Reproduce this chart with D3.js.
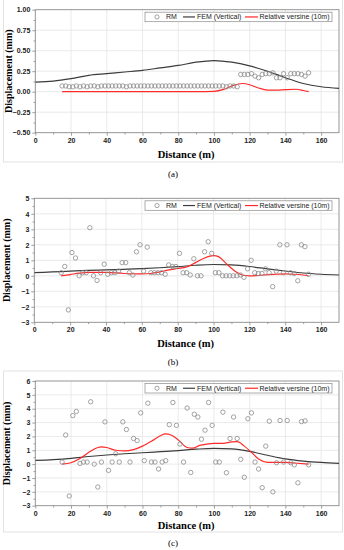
<!DOCTYPE html>
<html><head><meta charset="utf-8">
<script src="https://cdn.jsdelivr.net/npm/d3@7"></script>
<style>body{margin:0;background:#fff}svg{display:block}</style>
</head><body><svg id="c" width="344" height="550"></svg>
<script>
const distance = [15,17,19,21,23,25,27,29,31,33,35,37,39,41,43,45,47,49,51,53,55,57,59,61,63,65,67,69,71,73,75,77,79,81,83,85,87,89,91,93,95,97,99,101,103,105,107,109,111,113,115,117,119,121,123,125,127,129,131,133,135,137,139,141,143,145,147,149,151,153];
const rmA = [0.07,0.07,0.06,0.06,0.07,0.06,0.07,0.06,0.07,0.07,
  0.06,0.07,0.07,0.07,0.07,0.07,0.07,0.07,0.06,0.07,
  0.07,0.07,0.07,0.07,0.07,0.07,0.07,0.07,0.07,0.07,
  0.07,0.07,0.07,0.07,0.07,0.07,0.07,0.07,0.07,0.07,
  0.07,0.07,0.07,0.07,0.07,0.07,0.06,0.07,0.07,0.06,
  0.21,0.21,0.21,0.22,0.19,0.17,0.21,0.22,0.22,0.23,
  0.17,0.17,0.22,0.17,0.22,0.22,0.22,0.21,0.19,0.23];
const rmB = [0.2,0.6,-2.2,1.5,1.15,0.0,0.2,0.2,3.1,0.0,
  -0.3,0.2,0.75,0.1,0.2,0.2,0.3,0.85,0.85,0.2,
  0.05,1.55,2.0,0.3,1.85,0.2,0.2,0.2,0.2,0.1,
  0.7,0.6,0.6,1.45,0.2,0.2,0.05,1.1,0.0,0.0,
  1.55,2.2,1.45,0.2,0.2,0.0,0.0,0.0,0.0,0.0,
  0.05,-0.1,0.45,1.0,0.2,0.15,0.15,0.45,0.2,-0.7,
  0.3,2.0,0.2,2.0,0.2,0.15,-0.32,2.0,1.88,0.1];
const rmC = [0.15,2.1,-2.3,3.5,3.8,0.05,0.15,0.15,4.5,0.0,
  -1.65,0.15,3.05,-0.45,0.15,0.75,0.15,3.05,2.5,0.15,
  1.85,1.7,3.7,0.25,4.4,0.15,0.15,-0.35,0.15,0.25,
  2.85,4.45,2.8,1.45,0.15,4.05,-0.6,3.6,3.4,1.8,
  2.45,4.45,2.8,0.15,0.15,3.75,-0.62,1.85,3.4,1.85,
  0.35,-0.95,3.28,3.7,0.15,-0.35,-1.7,1.3,3.1,-2.0,
  0.1,3.15,0.15,3.15,0.1,-0.05,-1.35,3.07,3.12,-0.05];
const femX = [0,10,20,30,40,50,60,70,80,90,100,110,120,130,140,150,160,170];
const femA = [0.117,0.13,0.16,0.20,0.22,0.24,0.26,0.29,0.32,0.36,0.38,0.36,0.315,0.25,0.17,0.10,0.06,0.04];
const femB = [0.2,0.25,0.3,0.35,0.38,0.42,0.46,0.52,0.59,0.68,0.73,0.7,0.6,0.45,0.31,0.18,0.1,0.05];
const femC = [0.27,0.33,0.42,0.55,0.66,0.75,0.82,0.9,0.98,1.08,1.14,1.1,0.92,0.64,0.38,0.22,0.12,0.06];
const rvAx = [15,30,50,70,90,100,105,110,116,120,125,130,135,140,146,150,153];
const rvA  = [0,0,0,0,0,0.005,0.025,0.07,0.10,0.085,0.045,0.02,0.018,0.025,0.03,0.015,0];
const rvBx = [15,20,25,30,40,50,60,65,70,75,80,85,90,95,100,103,107,112,116,120,125,130,135,140,145,150,153];
const rvB  = [0,0.08,0.17,0.22,0.22,0.15,0.12,0.15,0.25,0.38,0.47,0.57,0.85,1.15,1.3,1.22,0.8,0.3,0.05,0,0.02,0.08,0.1,0.12,0.1,0.05,0];
const rvCx = [15,20,25,30,35,37,40,45,50,55,60,65,70,73,76,80,85,88,92,96,100,105,110,113,117,121,125,130,140,145,153];
const rvC  = [0,0.1,0.4,0.85,1.2,1.25,1.2,1.0,0.95,1.05,1.3,1.65,2.05,2.18,2.1,1.75,1.2,1.15,1.35,1.45,1.5,1.5,1.6,1.62,1.3,0.85,0.37,0.13,0.12,0.08,0];
const xTicks = [0,20,40,60,80,100,120,140,160];
const yTicksA = [-0.5,-0.25,0,0.25,0.5,0.75,1.0];
const yTicksB = [-3,-2,-1,0,1,2,3,4,5];
const yTicksC = [-3,-2,-1,0,1,2,3,4,5,6];
const legendLabels = ["RM","FEM (Vertical)","Relative versine (10m)"];

const svg = d3.select("#c");
const sans = "'Liberation Sans', Arial, sans-serif";
const serif = "'Liberation Serif', 'Times New Roman', serif";

function panel(o){
  const x = d3.scaleLinear().domain([0,170]).range([o.left, o.right]);
  const y = d3.scaleLinear().domain(o.yDomain).range([o.bottom, o.top]);
  const g = svg.append("g");
  // frame
  if (o.frame) {
    g.append("rect").attr("x",3.5).attr("y",o.frame[0]).attr("width",339).attr("height",o.frame[1]-o.frame[0])
      .attr("fill","none").attr("stroke","#e2e2e2").attr("stroke-width",1);
  }
  // grid
  g.append("g").selectAll("line").data(xTicks.slice(1)).join("line")
    .attr("x1",d=>x(d)).attr("x2",d=>x(d)).attr("y1",o.top).attr("y2",o.bottom)
    .attr("stroke","#e4e4e4").attr("stroke-width",0.8);
  g.append("g").selectAll("line").data(o.yTicks.slice(1,-1)).join("line")
    .attr("x1",o.left).attr("x2",o.right).attr("y1",d=>y(d)).attr("y2",d=>y(d))
    .attr("stroke","#e4e4e4").attr("stroke-width",0.8);
  // axes
  const xa = g.append("g").attr("transform",`translate(0,${o.bottom})`)
    .call(d3.axisBottom(x).tickValues(xTicks).tickSize(3).tickPadding(2).tickFormat(d3.format("d")));
  const xm = g.append("g").attr("transform",`translate(0,${o.bottom})`)
    .call(d3.axisBottom(x).tickValues(d3.range(10,170,20)).tickSize(1.8).tickFormat(""));
  const ya = g.append("g").attr("transform",`translate(${o.left},0)`)
    .call(d3.axisLeft(y).tickValues(o.yTicks).tickSize(3).tickPadding(2).tickFormat(o.fmt));
  const minorY = o.yTicks.slice(0,-1).map((d,i)=>(d+o.yTicks[i+1])/2);
  const ym = g.append("g").attr("transform",`translate(${o.left},0)`)
    .call(d3.axisLeft(y).tickValues(minorY).tickSize(1.8).tickFormat(""));
  [xa,xm,ya,ym].forEach(a=>{
    a.select(".domain").remove();
    a.selectAll("line").attr("stroke","#777").attr("stroke-width",0.7);
    a.selectAll("text").attr("font-family",sans).attr("font-weight","bold").attr("font-size",7).attr("fill","#222");
  });
  g.append("rect").attr("x",o.left).attr("y",o.top).attr("width",o.right-o.left).attr("height",o.bottom-o.top)
    .attr("fill","none").attr("stroke","#8a8a8a").attr("stroke-width",0.9);
  // clip
  const cid = "clip"+o.id;
  svg.append("clipPath").attr("id",cid).append("rect")
    .attr("x",o.left).attr("y",o.top).attr("width",o.right-o.left).attr("height",o.bottom-o.top);
  const pg = g.append("g").attr("clip-path",`url(#${cid})`);
  const line = d3.line().curve(d3.curveMonotoneX);
  pg.append("path").attr("d", line(femX.map((d,i)=>[x(d), y(o.fem[i])])))
    .attr("fill","none").attr("stroke","#3c3c3c").attr("stroke-width",1.2);
  pg.append("path").attr("d", line(o.rvx.map((d,i)=>[x(d), y(o.rv[i])])))
    .attr("fill","none").attr("stroke","#ff2a2a").attr("stroke-width",1.2);
  pg.append("g").selectAll("circle").data(distance).join("circle")
    .attr("cx",d=>x(d)).attr("cy",(d,i)=>y(o.rm[i])).attr("r",2.2)
    .attr("fill","none").attr("stroke","#8c8c8c").attr("stroke-width",0.8);
  // legend
  const lx = o.right - 194, ly = o.top + 2.5;
  const lg = g.append("g");
  lg.append("rect").attr("x",lx).attr("y",ly).attr("width",187).attr("height",9.5)
    .attr("fill","#fff").attr("stroke","#8a8a8a").attr("stroke-width",0.7);
  const cy = ly + 4.75;
  lg.append("circle").attr("cx",lx+12).attr("cy",cy).attr("r",2.1).attr("fill","none").attr("stroke","#8c8c8c").attr("stroke-width",0.8);
  lg.append("line").attr("x1",lx+38).attr("x2",lx+50).attr("y1",cy).attr("y2",cy).attr("stroke","#3c3c3c").attr("stroke-width",1.2);
  lg.append("line").attr("x1",lx+100).attr("x2",lx+113).attr("y1",cy).attr("y2",cy).attr("stroke","#ff2a2a").attr("stroke-width",1.2);
  [[lx+21,legendLabels[0]],[lx+52,legendLabels[1]],[lx+114.5,legendLabels[2]]].forEach(([tx,t])=>{
    lg.append("text").attr("x",tx).attr("y",cy+2.5).text(t)
      .attr("font-family",sans).attr("font-size",7).attr("fill","#222");
  });
  // titles
  g.append("text").attr("x",(o.left+o.right)/2 - 1).attr("y",o.xTitleY).attr("text-anchor","middle")
    .attr("font-family",serif).attr("font-weight","bold").attr("font-size",10.5).text("Distance (m)");
  g.append("text").attr("transform",`translate(${o.yTitleX},${(o.top+o.bottom)/2}) rotate(-90)`)
    .attr("text-anchor","middle").attr("font-family",serif).attr("font-weight","bold").attr("font-size",10)
    .text("Displacement (mm)");
  g.append("text").attr("x",173).attr("y",o.labelY).attr("text-anchor","middle")
    .attr("font-family",serif).attr("font-size",9).text(o.label);
}

panel({id:"a", left:35.3, right:339, top:9.7, bottom:132.7, yDomain:[-0.5,1.0], yTicks:yTicksA,
  fmt:d3.format(".2f"), rm:rmA, fem:femA, rvx:rvAx, rv:rvA, xTitleY:157.5, yTitleX:12, label:"(a)", labelY:176.5, frame:[-1,162]});
panel({id:"b", left:34.3, right:339, top:198.3, bottom:322.3, yDomain:[-3,5], yTicks:yTicksB,
  fmt:d3.format("d"), rm:rmB, fem:femB, rvx:rvBx, rv:rvB, xTitleY:346.5, yTitleX:10, label:"(b)", labelY:365, frame:null});
panel({id:"c", left:35.3, right:339, top:381, bottom:505.7, yDomain:[-3,6], yTicks:yTicksC,
  fmt:d3.format("d"), rm:rmC, fem:femC, rvx:rvCx, rv:rvC, xTitleY:529, yTitleX:10, label:"(c)", labelY:546, frame:[371,532]});
</script></body></html>
